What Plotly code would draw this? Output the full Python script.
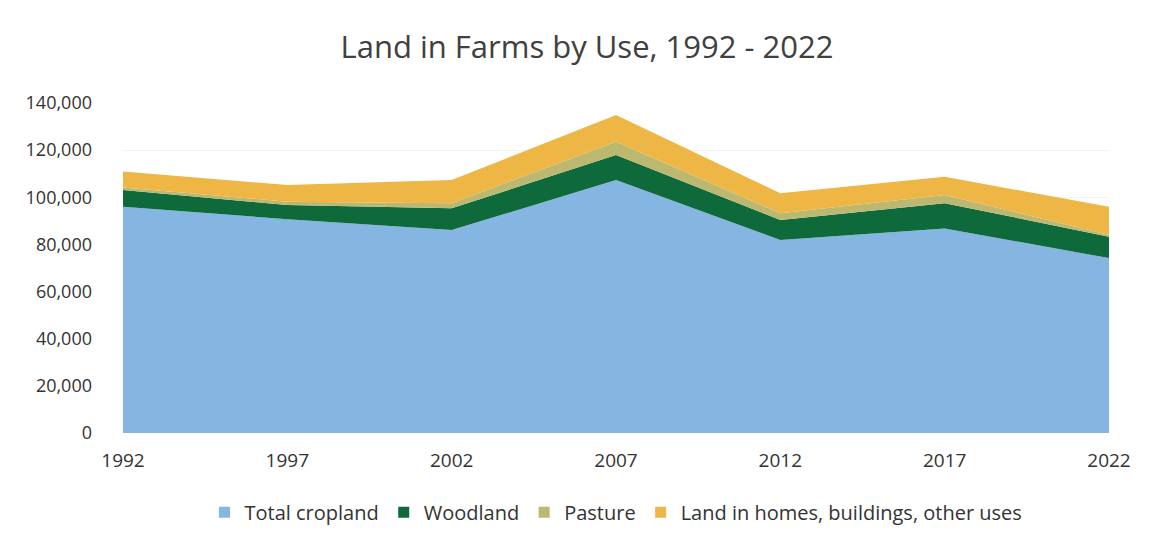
import plotly.graph_objects as go

years = [1992, 1997, 2002, 2007, 2012, 2017, 2022]
cropland = [96000, 90700, 86100, 107300, 81900, 86800, 74200]
woodland = [7100, 6000, 9200, 10600, 8500, 10700, 9100]
pasture = [1100, 1400, 2200, 5700, 2800, 3500, 700]
other_uses = [6700, 7100, 9800, 11300, 8500, 7700, 12000]

series = [
    ("Total cropland", cropland, "#84B6E1"),
    ("Woodland", woodland, "#0F6A3B"),
    ("Pasture", pasture, "#BDB870"),
    ("Land in homes, buildings, other uses", other_uses, "#EDB645"),
]

fig = go.Figure()
for name, vals, col in series:
    fig.add_trace(go.Scatter(
        x=years, y=vals, name=name, mode="lines",
        stackgroup="one", line=dict(width=0, color=col),
        fillcolor=col, showlegend=False,
    ))
# legend entries with square swatches
for name, vals, col in series:
    fig.add_trace(go.Scatter(
        x=[None], y=[None], name=name, mode="markers",
        marker=dict(symbol="square", size=11, color=col),
        showlegend=True,
    ))

fig.update_layout(
    width=1158, height=547,
    paper_bgcolor="white", plot_bgcolor="white",
    margin=dict(l=115, r=57, t=95, b=122),
    title=dict(text="Land in Farms by Use, 1992 - 2022", x=0.5, xanchor="center",
               y=0.929, yanchor="middle",
               font=dict(family="Open Sans", size=31, color="#404040")),
    font=dict(family="Open Sans", size=19, color="#333333"),
    legend=dict(orientation="h", x=0.5, xanchor="center", y=-0.24, yanchor="middle",
                font=dict(size=20, color="#333333"), traceorder="normal",
                itemwidth=30, bgcolor="rgba(0,0,0,0)", tracegroupgap=0),
    showlegend=True,
)
fig.update_xaxes(range=[1992, 2022], tickvals=years, ticktext=[str(y) for y in years],
                 showgrid=False, zeroline=False, showline=False, ticks="",
                 tickfont=dict(size=19, color="#333333"), ticklabelstandoff=14,
                 automargin=False)
fig.update_yaxes(range=[0, 140000], dtick=20000, tickformat=",", showgrid=True,
                 gridcolor="#F2F2F2", zeroline=False, showline=False, ticks="",
                 tickfont=dict(size=18, color="#333333"), ticklabelstandoff=30,
                 automargin=False)

fig.write_html("out.html")
